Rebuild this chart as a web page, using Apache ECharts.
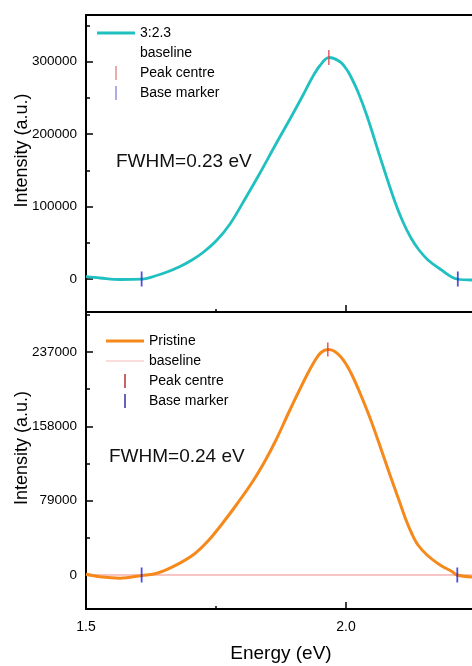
<!DOCTYPE html>
<html>
<head>
<meta charset="utf-8">
<script src="https://cdn.jsdelivr.net/npm/echarts@6/dist/echarts.min.js"></script>
<style>
html,body{margin:0;padding:0;background:#fff;}
#chart{width:472px;height:666px;}
</style>
</head>
<body>
<div id="chart"></div>
<script>
// ---- Data ----
const topEnergy = [1.5000,1.5269,1.5654,1.6077,1.6327,1.6558,1.6808,1.7038,1.7250,1.7519,1.7769,1.8058,1.8346,1.8673,1.8923,1.9154,1.9346,1.9500,1.9673,1.9885,2.0000,2.0077,2.0231,2.0404,2.0692,2.0942,2.1096,2.1250,2.1404,2.1577,2.1808,2.2135,2.2423];
const topIntensity = [3180,1380,-690,-300,4140,9660,17260,26230,36590,53840,75930,110450,146340,189140,220900,251270,277500,294760,305800,300000,290620,281640,258170,225040,160150,106310,78690,56600,40040,26230,13810,0,-1380];
const botEnergy = [1.5000,1.5269,1.5654,1.6077,1.6365,1.6673,1.7058,1.7346,1.7615,1.7904,1.8212,1.8442,1.8654,1.8885,1.9115,1.9269,1.9404,1.9519,1.9654,1.9769,1.9885,2.0000,2.0115,2.0269,2.0462,2.0654,2.0846,2.1038,2.1154,2.1269,2.1385,2.1558,2.1808,2.2038,2.2135,2.2423];
const botIntensity = [740,-1910,-3400,-500,1810,8820,21260,36140,54200,75460,99900,121160,143480,171110,197680,214690,227970,236470,239660,238070,232750,224250,212560,193430,166860,137100,106280,76530,58460,43580,31880,21260,10630,3720,0,-2130];
const topPeak = [[1.967, 305800]];
const topBase = [[1.607, 0], [2.215, 0]];
const botPeak = [[1.965, 239660]];
const botBase = [[1.607, 0], [2.214, 0]];
const baselineEnergy = [1.5, 2.25];
const baselineValue = [0, 0];
const topMajorTicks = [0, 100000, 200000, 300000];
const topMinorTicks = [50000, 150000, 250000, 350000];
const botMajorTicks = [0, 79000, 158000, 237000];
const botMinorTicks = [39500, 118500, 197500, 276500];
const xMajorTicks = [1.5, 2.0];
const xMinorTicks = [1.75];
const topLabel = '3:2.3';
const botLabel = 'Pristine';
const fwhmTop = 'FWHM=0.23 eV';
const fwhmBot = 'FWHM=0.24 eV';

const ZW = '\u200b';
const FONT = 'Liberation Sans, Arial, sans-serif';
const zip = (a, b) => a.map((v, i) => [v, b[i]]);
const vbar = 'path://M0,0H1V8H0Z';
const hline3 = 'path://M0,0H38V3H0Z';
const hline1 = 'path://M0,0H38V1H0Z';

const chart = echarts.init(document.getElementById('chart'));

const noLine = {show: false, onZero: false};
const axLine = {show: true, onZero: false, lineStyle: {color: '#000', width: 2}};
const xBase = (grid, extra) => Object.assign({
  type: 'value', gridIndex: grid, min: 1.5, max: 2.25,
  splitLine: {show: false},
  axisLine: noLine,
  axisTick: {show: false},
  axisLabel: {show: false}
}, extra);
const yBase = (grid, min, max, extra) => Object.assign({
  type: 'value', gridIndex: grid, min: min, max: max, position: 'left',
  splitLine: {show: false},
  axisLine: noLine,
  axisTick: {show: false},
  axisLabel: {show: false}
}, extra);
const tickStyle = {color: '#000', width: 1.5};
const yName = {fontSize: 18, color: '#000', fontFamily: FONT, padding: [0, 0, 0, 26]};
const yLab = {show: true, formatter: v => String(v), fontSize: 13.5, color: '#000', margin: 9, fontFamily: FONT};

const option = {
  animation: false,
  backgroundColor: '#fff',
  textStyle: {fontFamily: FONT},
  grid: [
    {left: 86, right: -4, top: 15, bottom: 354, containLabel: false, outerBoundsMode: 'none'},
    {left: 86, right: -4, top: 313, bottom: 57, containLabel: false, outerBoundsMode: 'none'}
  ],
  xAxis: [
    xBase(0, {position: 'bottom', axisLine: axLine,
      axisTick: {show: true, inside: true, length: 7, customValues: xMajorTicks, lineStyle: tickStyle}}),
    xBase(0, {position: 'top', axisLine: axLine}),
    xBase(0, {position: 'bottom',
      axisTick: {show: true, inside: true, length: 3, customValues: xMinorTicks, lineStyle: tickStyle}}),
    xBase(1, {position: 'bottom', axisLine: axLine,
      axisTick: {show: true, inside: true, length: 7, customValues: xMajorTicks, lineStyle: tickStyle},
      axisLabel: {show: true, customValues: xMajorTicks, formatter: v => Number(v).toFixed(1), fontSize: 14, color: '#000', margin: 11, fontFamily: FONT},
      name: 'Energy (eV)', nameLocation: 'middle', nameGap: 35, nameMoveOverlap: false,
      nameTextStyle: {fontSize: 19, color: '#000', fontFamily: FONT}}),
    xBase(1, {position: 'bottom',
      axisTick: {show: true, inside: true, length: 3, customValues: xMinorTicks, lineStyle: tickStyle}})
  ],
  yAxis: [
    yBase(0, -45560, 364490, {axisLine: axLine,
      axisTick: {show: true, inside: true, length: 7, customValues: topMajorTicks, lineStyle: tickStyle},
      axisLabel: Object.assign({customValues: topMajorTicks}, yLab),
      name: 'Intensity (a.u.)', nameLocation: 'middle', nameGap: 55, nameMoveOverlap: false, nameTextStyle: yName}),
    yBase(0, -45560, 364490, {
      axisTick: {show: true, inside: true, length: 4, customValues: topMinorTicks, lineStyle: tickStyle}}),
    yBase(1, -36140, 278460, {axisLine: axLine,
      axisTick: {show: true, inside: true, length: 7, customValues: botMajorTicks, lineStyle: tickStyle},
      axisLabel: Object.assign({customValues: botMajorTicks}, yLab),
      name: 'Intensity (a.u.)', nameLocation: 'middle', nameGap: 55, nameMoveOverlap: false, nameTextStyle: yName}),
    yBase(1, -36140, 278460, {
      axisTick: {show: true, inside: true, length: 4, customValues: botMinorTicks, lineStyle: tickStyle}})
  ],
  legend: [
    {
      left: 92, top: 21, orient: 'vertical', itemWidth: 38, itemHeight: 14, itemGap: 6,
      selectedMode: false,
      textStyle: {fontSize: 14, color: '#000', fontFamily: FONT},
      data: [
        {name: topLabel, icon: hline3, itemStyle: {color: '#20c0c0'}},
        {name: 'baseline', icon: 'rect', itemStyle: {opacity: 0}},
        {name: 'Peak centre', icon: vbar, itemStyle: {color: '#d98a8a'}},
        {name: 'Base marker', icon: vbar, itemStyle: {color: '#8a8ad8'}}
      ]
    },
    {
      left: 101, top: 329, orient: 'vertical', itemWidth: 38, itemHeight: 14, itemGap: 6,
      selectedMode: false,
      textStyle: {fontSize: 14, color: '#000', fontFamily: FONT},
      data: [
        {name: botLabel, icon: hline3, itemStyle: {color: '#f5891c'}},
        {name: 'baseline' + ZW, icon: hline1, itemStyle: {color: '#f4bcbc'}},
        {name: 'Peak centre' + ZW, icon: vbar, itemStyle: {color: '#a82424'}},
        {name: 'Base marker' + ZW, icon: vbar, itemStyle: {color: '#22229c'}}
      ]
    }
  ],
  graphic: [
    {type: 'text', left: 116, top: 152, style: {text: fwhmTop, fontSize: 19, fontFamily: FONT, fill: '#111'}},
    {type: 'text', left: 109, top: 447, style: {text: fwhmBot, fontSize: 19, fontFamily: FONT, fill: '#111'}}
  ],
  series: [
    {name: topLabel, type: 'line', xAxisIndex: 0, yAxisIndex: 0, data: zip(topEnergy, topIntensity),
      smooth: 0.35, showSymbol: false, symbol: 'none', color: '#20c0c0', lineStyle: {color: '#20c0c0', width: 2.8}, z: 3},
    {name: 'baseline', type: 'line', xAxisIndex: 0, yAxisIndex: 0, data: zip(baselineEnergy, baselineValue),
      showSymbol: false, symbol: 'none', lineStyle: {width: 1, opacity: 0}, color: '#ffffff', z: 2},
    {name: 'Peak centre', type: 'scatter', xAxisIndex: 0, yAxisIndex: 0, data: topPeak,
      symbol: 'rect', symbolSize: [1.6, 15], symbolKeepAspect: true, itemStyle: {color: '#e8404a'}, z: 5},
    {name: 'Base marker', type: 'scatter', xAxisIndex: 0, yAxisIndex: 0, data: topBase,
      symbol: 'rect', symbolSize: [1.8, 15], symbolKeepAspect: true, itemStyle: {color: '#2424d0'}, z: 5},
    {name: botLabel, type: 'line', xAxisIndex: 3, yAxisIndex: 2, data: zip(botEnergy, botIntensity),
      smooth: 0.35, showSymbol: false, symbol: 'none', color: '#f5891c', lineStyle: {color: '#f5891c', width: 3}, z: 3},
    {name: 'baseline' + ZW, type: 'line', xAxisIndex: 3, yAxisIndex: 2, data: zip(baselineEnergy, baselineValue),
      showSymbol: false, symbol: 'none', color: '#f09a9a', lineStyle: {color: '#f08a8a', width: 1}, z: 2},
    {name: 'Peak centre' + ZW, type: 'scatter', xAxisIndex: 3, yAxisIndex: 2, data: botPeak,
      symbol: 'rect', symbolSize: [1.6, 14], symbolKeepAspect: true, itemStyle: {color: '#e83434'}, z: 5},
    {name: 'Base marker' + ZW, type: 'scatter', xAxisIndex: 3, yAxisIndex: 2, data: botBase,
      symbol: 'rect', symbolSize: [1.8, 15], symbolKeepAspect: true, itemStyle: {color: '#2020e0'}, z: 5}
  ]
};
chart.setOption(option);
</script>
</body>
</html>
